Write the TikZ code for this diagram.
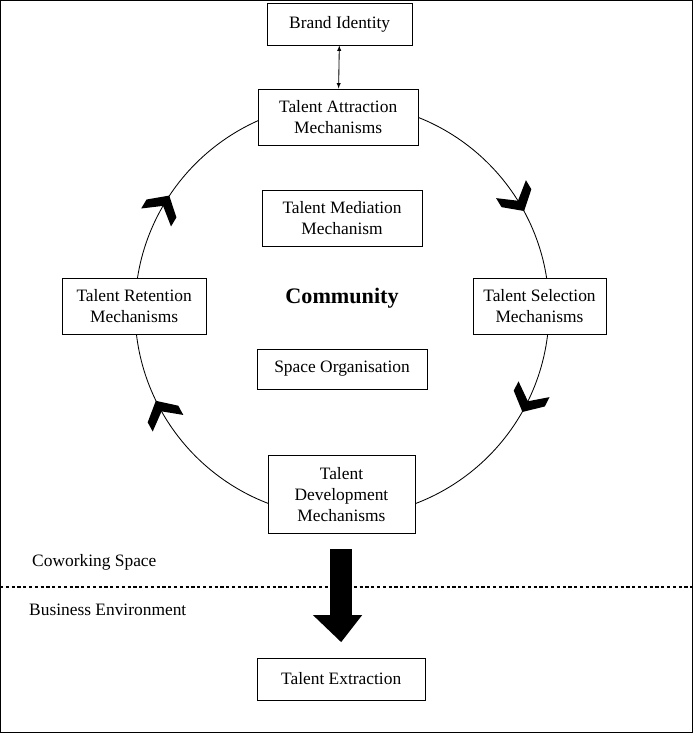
\documentclass[tikz,border=0pt]{standalone}
\usepackage{fontspec}
\setmainfont{Liberation Serif}
\usetikzlibrary{arrows,calc}
\begin{document}
\begin{tikzpicture}[x=1cm,y=1cm]
\tikzstyle{box}=[draw,thick,fill=white,align=center,font=\fontsize{16.5}{20}\selectfont,minimum height=1.87cm]
\tikzstyle{lbl}=[anchor=west,font=\fontsize{16.5}{20}\selectfont]
\useasboundingbox (0,0) rectangle (23.1,-24.43);
\draw[thick] (0.03,-0.03) rectangle (23.07,-24.40);

% cycle
\coordinate (c) at (11.4,-10.33);
\draw[thick] (c) circle (6.9);
\foreach \a in {31,-27,208.5,149}
  \fill[shift={($(c)+(\a:6.9)$)},rotate=\a-90]
    (0.3,0)--(-0.2,0.58)--(-0.55,0.58)--(-0.1,0)--(-0.55,-0.58)--(-0.2,-0.58)--cycle;

\node (brand) at (11.32,-0.8) [box,minimum width=4.83cm,minimum height=1.4cm] {Brand Identity};
\node (attr) at (11.27,-3.9) [box,minimum width=5.33cm] {Talent Attraction\\Mechanisms};
\node (med) at (11.4,-7.27) [box,minimum width=5.33cm] {Talent Mediation\\Mechanism};
\node (sel) at (17.98,-10.2) [box,minimum width=4.43cm] {Talent Selection\\Mechanisms};
\node (ret) at (4.47,-10.2) [box,minimum width=4.8cm] {Talent Retention\\Mechanisms};
\node (space) at (11.4,-12.3) [box,minimum width=5.67cm,minimum height=1.33cm] {Space Organisation};
\node (dev) at (11.38,-16.47) [box,minimum width=4.9cm,minimum height=2.6cm] {Talent\\Development\\Mechanisms};
\node (ext) at (11.37,-22.63) [box,minimum width=5.6cm,minimum height=1.4cm] {Talent Extraction};
\node (comm) at (11.4,-9.93) [font=\fontsize{21}{25}\selectfont\bfseries] {Community};

\draw[thick,<->,>=latex] (brand) -- (attr);

% environments
\node (cowork) at (0.95,-18.73) [lbl] {Coworking Space};
\node (biz) at (0.85,-20.33) [lbl] {Business Environment};
\draw[line width=2pt,dash pattern=on 3pt off 2.5pt] (0,-19.57) -- (23.1,-19.57);

% extraction arrow
\coordinate (tip) at (11.37,-21.4);
\fill (11.0,-18.3) -- (11.73,-18.3) -- (11.73,-20.5) -- (12.07,-20.5) -- (tip)
      -- (10.43,-20.5) -- (11.0,-20.5) -- cycle;
\end{tikzpicture}
\end{document}
